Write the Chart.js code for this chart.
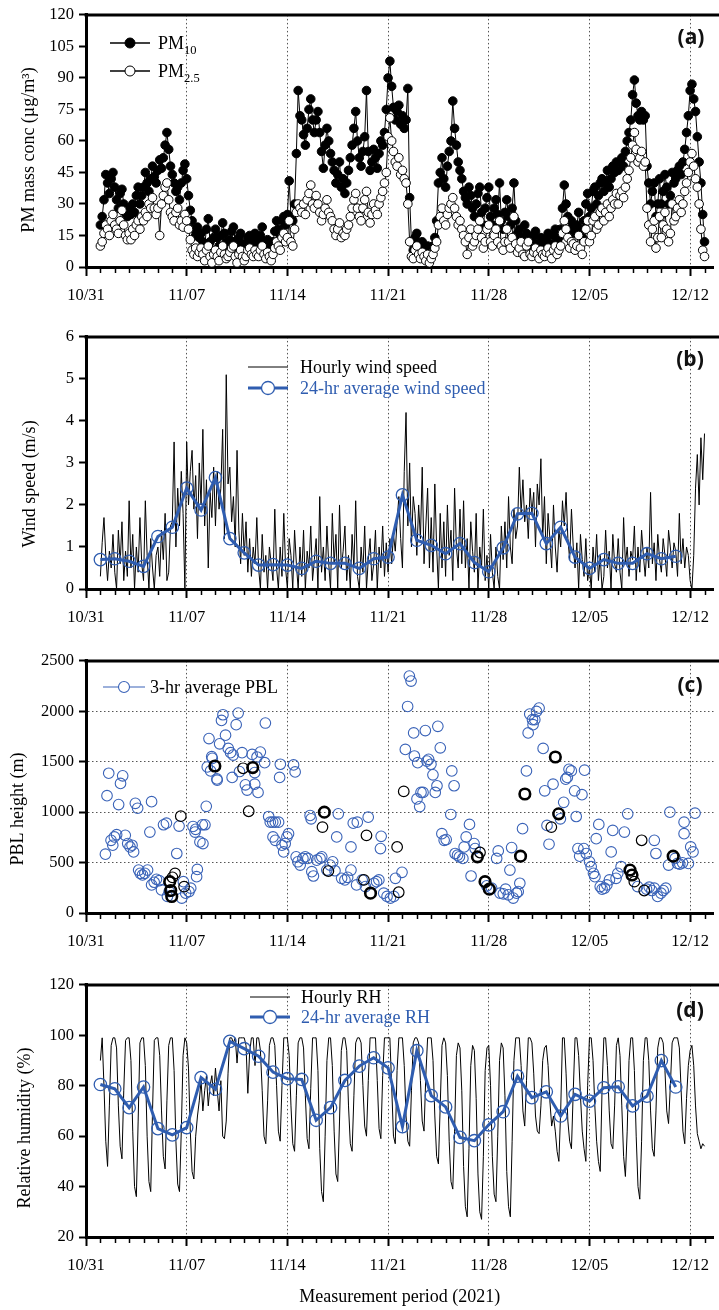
<!DOCTYPE html>
<html><head><meta charset="utf-8">
<script src="https://cdn.jsdelivr.net/npm/chart.js@4.4.1/dist/chart.umd.min.js"></script>
<style>
html,body{margin:0;padding:0;background:#fff;width:719px;height:1310px;overflow:hidden}
canvas{position:absolute;left:0}
</style></head><body>
<canvas id="ca" width="719" height="320" style="top:0"></canvas>
<canvas id="cb" width="719" height="320" style="top:322px"></canvas>
<canvas id="cc" width="719" height="320" style="top:646px"></canvas>
<canvas id="cd" width="719" height="340" style="top:970px"></canvas>
<script>
// ---------- axis data ----------
const dayTickValues = [0,7,14,21,28,35,42];
const dayTickLabels = ['10/31','11/07','11/14','11/21','11/28','12/05','12/12'];
const X_MAX = 43.63;            // days after 10/31 00:00
const hourlyStart = 1;          // 11/01 00:00
const pmStepDays = 3/24;        // PM read every 3 h
const metStepDays = 3/24;       // wind / RH read every 3 h

// ---------- (a) PM mass concentration ----------
const pm10 = [
20,24,32,44,40,35,42,45, 38,32,28,35,37,30,26,24, 28,25,30,26,34,38,30,34, 38,45,40,36,42,48,43,40,
46,51,47,52,58,64,56,48, 44,40,36,38,32,40,46,49, 42,34,27,22,18,15,19,14, 16,12,10,18,23,12,3,14,
18,14,10,15,21,16,12,9, 13,17,19,12,9,14,16,11, 8,11,14,15,11,13,16,12, 10,15,19,12,8,13,10,6,
12,17,22,18,15,22,24,20, 25,41,24,22,30,54,84,72, 70,63,58,66,75,80,70,64, 70,74,64,55,47,58,66,60,
54,50,46,40,44,50,38,42, 35,40,46,52,58,66,74,60, 52,48,55,62,84,55,46,50, 56,52,47,54,60,58,64,75,
90,98,86,76,70,74,77,68, 72,66,70,85,33,12,8,14, 16,10,8,12,9,6,10,4, 6,10,14,22,40,45,52,42,
38,48,55,60,79,66,58,50, 46,42,36,33,30,38,34,28, 24,30,35,38,26,20,28,33, 38,24,20,28,32,25,40,22,
18,26,32,24,20,28,40,22, 16,18,14,12,20,16,12,10, 12,15,17,11,9,14,12,10, 13,16,11,9,15,18,12,14,
18,28,39,30,24,18,22,20, 16,20,26,18,14,22,30,35, 24,28,36,38,30,34,40,42, 36,40,46,38,42,48,45,50,
46,50,52,48,55,60,64,70, 82,89,78,72,70,74,70,72, 48,40,30,36,40,24,30,42, 30,36,44,38,30,34,45,40,
42,46,48,44,50,56,64,72, 84,87,80,74,62,50,40,25, 12];
const pm25 = [
10,12,16,20,18,15,22,25, 20,18,16,22,27,20,15,13, 16,13,18,15,20,22,18,24, 22,26,24,30,28,33,28,25,
28,15,30,34,38,40,32,26, 24,22,26,28,20,22,19,25, 22,18,13,8,6,9,5,7, 9,6,3,8,10,5,2,6,
8,5,3,7,10,6,4,5, 7,9,10,5,2,6,8,5, 3,5,8,9,6,5,8,6, 5,8,10,6,4,7,5,3,
6,9,12,10,8,14,16,12, 14,22,12,10,18,26,30,28, 26,30,25,32,35,39,30,28, 34,30,26,22,25,28,32,26,
24,22,18,15,18,21,14,16, 15,18,20,24,28,32,35,28, 24,22,28,32,36,26,21,25, 30,27,25,30,33,36,40,45,
62,71,60,55,50,48,52,44, 46,42,40,30,12,5,4,8, 10,6,4,7,5,3,6,2, 4,6,9,12,20,24,28,22,
20,25,28,30,33,28,24,20, 22,18,15,12,6,14,18,10, 12,15,18,22,14,9,12,18, 20,12,10,15,18,12,22,10,
8,12,18,12,9,14,24,11, 7,9,12,6,5,10,12,6, 5,7,9,6,4,8,6,5, 7,9,6,4,8,10,6,8,
10,16,22,18,14,9,12,11, 8,10,15,9,6,12,18,22, 12,15,22,24,18,20,26,28, 22,26,30,24,28,32,30,35,
30,34,36,33,38,42,46,52, 58,64,56,50,52,55,48,50, 28,20,12,18,22,9,14,24, 14,20,26,18,12,16,30,22,
24,28,32,26,30,36,40,45, 50,54,48,42,38,30,18,8, 5];

// ---------- (b) wind speed ----------
const windHourly = [
0.3,1.1,1.7,0.8,0.2,0.9,0.5,1.3, 0.4,0.0,1.4,0.6,1.6,0.2,0.9,0.3, 2.1,0.5,1.3,0.0,1.0,0.4,1.7,0.6,
0.2,2.1,0.8,0.0,1.2,0.5,0.0,0.8, 1.0,0.3,1.4,0.7,1.8,0.2,0.4,1.5, 1.6,3.5,1.0,2.4,1.5,2.8,1.8,0.0,
3.5,2.0,2.8,3.3,1.9,2.7,1.2,3.0, 2.0,3.8,1.5,2.6,0.5,2.3,1.7,2.9, 1.5,2.8,1.9,2.4,3.8,1.2,5.1,2.5,
2.9,1.6,2.2,1.0,3.3,1.4,0.6,1.8, 0.8,1.6,0.4,1.2,0.3,1.0,0.6,1.7, 0.5,0.0,1.3,0.4,0.8,0.0,1.0,0.6,
0.2,1.9,0.5,0.0,1.0,0.3,1.8,0.5, 0.0,1.2,0.8,0.0,1.4,0.6,0.0,1.0, 0.3,1.4,0.0,0.9,0.5,1.5,0.2,0.7,
1.2,0.0,2.2,0.4,1.0,0.2,1.5,0.6, 0.0,1.8,0.6,1.3,0.0,2.0,0.5,0.9, 1.5,0.2,0.8,0.0,1.3,0.5,2.1,0.3,
0.0,1.0,0.4,1.5,0.0,0.7,1.2,0.2, 0.6,1.4,0.0,1.0,0.5,1.5,0.3,1.1, 0.4,1.2,0.6,1.3,0.9,1.6,2.2,1.2,
0.5,2.8,4.2,1.5,3.0,1.0,2.2,1.8, 0.8,2.0,1.2,2.9,0.6,1.5,2.4,0.5, 1.7,0.4,2.5,1.0,0.0,1.8,0.5,1.6,
0.3,2.0,0.8,1.4,0.2,2.4,1.0,0.5, 1.9,0.6,2.1,0.5,1.2,0.0,1.6,0.9, 0.4,1.8,0.0,1.0,0.5,1.9,0.2,0.8,
0.0,1.3,0.4,0.0,1.0,0.3,0.0,1.5, 0.7,1.6,0.5,2.2,1.0,0.6,1.9,1.2, 1.5,2.9,1.8,2.6,1.6,2.0,1.2,2.4,
1.8,2.3,1.0,2.5,2.0,3.1,1.2,2.2, 0.6,1.8,1.2,0.5,2.0,1.0,0.4,1.4, 1.0,2.1,1.5,2.3,1.2,0.7,1.9,1.0,
0.5,1.1,0.0,1.3,0.7,0.3,1.2,0.2, 0.5,0.0,1.0,0.4,1.3,0.2,0.8,0.0, 0.3,1.4,0.5,0.9,0.0,1.3,0.6,0.4,
1.2,0.4,0.0,1.7,0.6,1.0,0.3,0.9, 0.7,1.5,0.2,1.0,0.4,1.4,0.8,0.3, 1.0,0.5,2.3,0.6,1.1,0.2,1.3,0.7,
0.4,1.2,0.8,0.3,1.4,1.0,0.5,1.1, 0.9,0.3,1.8,0.6,1.2,0.5,1.0,0.8, 0.2,0.0,0.8,2.4,3.2,2.0,3.6,2.6,
3.7];
const windDaily = [0.70,0.72,0.66,0.54,1.25,1.47,2.40,1.88,2.65,1.20,0.86,0.57,0.58,0.57,0.49,0.66,0.61,0.61,0.49,0.72,
0.76,2.24,1.16,1.04,0.84,1.08,0.63,0.41,0.98,1.79,1.80,1.08,1.47,0.76,0.49,0.70,0.61,0.61,0.84,0.72,0.78];

// ---------- (c) PBL height: [day, height m] ----------
const pblBlue = [
[1.35,583],[1.46,1163],[1.58,1386],[1.74,721],[1.86,672],[1.97,754],[2.13,777],[2.27,1075],[2.40,1285],[2.55,1360],[2.73,770],[2.90,688],[3.06,655],[3.20,672],[3.31,606],[3.43,1088],[3.59,1039],[3.66,426],[3.77,393],[3.93,377],[4.09,393],[4.28,426],[4.44,803],[4.56,1104],[4.56,278],[4.74,305],[4.90,334],[5.09,321],[5.25,229],[5.39,875],[5.59,891],[5.66,164],[5.78,213],[6.31,590],[6.47,862],[6.66,148],[6.77,311],[6.93,197],[7.16,213],[7.28,246],[7.44,858],[7.58,803],[7.62,830],[7.69,360],[7.74,432],[7.92,705],[8.09,875],[8.13,688],[8.27,875],[8.36,1058],[8.43,1448],[8.55,1730],[8.66,1409],[8.74,1550],[8.78,1534],[9.10,1330],[9.12,1317],[9.29,1678],[9.42,1910],[9.52,1966],[9.70,1763],[9.89,1632],[10.05,1590],[10.16,1344],[10.23,1566],[10.44,1868],[10.58,1983],[10.67,1403],[10.85,1590],[11.08,1271],[11.20,1219],[11.55,1573],[11.73,1393],[11.73,1278],[11.89,1547],[11.96,1196],[12.12,1596],[12.42,1491],[12.47,1884],[12.70,957],[12.81,901],[12.98,901],[13.00,754],[13.16,721],[13.16,901],[13.39,901],[13.46,1344],[13.51,1475],[13.62,672],[13.74,606],[13.85,688],[13.97,754],[14.08,787],[14.43,1468],[14.54,1399],[14.61,557],[14.73,508],[14.89,475],[15.08,541],[15.24,557],[15.42,541],[15.58,967],[15.65,934],[15.70,410],[15.81,367],[16.04,524],[16.27,541],[16.39,557],[16.74,426],[16.97,475],[17.15,508],[17.31,419],[17.43,754],[17.54,983],[17.77,344],[18.00,328],[18.19,354],[18.42,426],[18.42,655],[18.58,891],[18.81,278],
[18.86,901],[19.20,328],[19.43,262],[19.62,950],[20.01,295],[20.20,311],[20.36,328],[20.47,639],[20.52,760],[20.70,197],[20.93,164],[21.16,148],[21.40,164],[21.51,344],[21.97,403],[22.20,1622],[22.36,2048],[22.48,2350],[22.60,2300],[22.78,1786],[22.83,1557],[23.01,1131],[23.06,1491],[23.20,1055],[23.29,1196],[23.43,1196],[23.59,1809],[23.70,1507],[23.82,1524],[23.98,1475],[24.12,1370],[24.28,1196],[24.40,1262],[24.46,1851],[24.63,1638],[24.74,787],[24.90,721],[25.04,728],[25.36,977],[25.43,1409],[25.59,1262],[25.66,590],[25.83,573],[25.96,557],[26.20,541],[26.29,655],[26.43,754],[26.66,878],[26.77,367],[26.98,688],[27.05,639],[27.86,269],[28.20,246],[28.55,541],[28.66,616],[28.78,197],[29.01,190],[29.17,236],[29.36,180],[29.47,426],[29.59,649],[29.70,148],[29.93,197],[30.05,213],[30.16,295],[30.35,836],[30.62,1409],[30.74,1786],[30.85,1973],[31.04,1917],[31.08,1868],[31.20,1917],[31.32,1999],[31.50,2032],[31.78,1632],[31.89,1212],[32.05,868],[32.19,682],[32.47,1278],[32.98,934],[33.21,1098],[33.35,1327],[33.46,1344],[33.58,1425],[33.74,1409],[33.97,1212],[34.08,957],[34.20,639],[34.32,564],[34.48,1173],[34.61,639],[34.66,1416],[34.78,590],[35.01,508],[35.12,459],[35.28,393],[35.38,360],[35.47,737],[35.65,878],[35.75,262],[35.88,236],[36.05,246],[36.21,278],[36.39,328],[36.51,606],[36.62,819],[36.85,344],[36.97,393],[37.20,459],[37.43,803],[37.66,983],[38.35,262],[38.97,236],[39.16,256],[39.34,223],[39.51,246],[39.51,721],[39.62,590],[39.74,164],[39.97,197],[40.13,223],[40.31,246],[40.50,475],[40.59,1000],[40.96,541],[41.12,492],[41.28,485],[41.47,498],[41.58,787],[41.58,901],[41.88,492],[42.04,655],[42.20,606],[42.34,990]];
const pblBlackThin = [[6.01,354],[6.19,393],[6.59,960],[6.82,262],[10.92,1435],[11.31,1009],[16.44,852],[16.85,416],[19.32,328],[19.50,770],[21.63,655],[21.74,206],[22.09,1206],[27.39,600],[32.35,852],[38.12,311],[38.63,721],[38.81,223]];
const pblBlackBold = [[5.82,311],[5.89,223],[5.96,164],[8.96,1458],[11.59,1442],[16.57,1000],[19.78,197],[27.21,557],[27.74,311],[28.04,236],[30.21,564],[30.51,1180],[32.63,1547],[32.86,983],[37.82,426],[37.96,377],[40.82,564]];

// ---------- (d) relative humidity ----------
const rhHourly = [
90,99,80,58,48,72,96,99, 99,95,72,56,51,78,98,99, 99,90,62,40,36,66,97,99, 99,88,60,42,38,70,98,99,
99,92,70,52,47,74,96,99, 99,86,58,41,38,62,92,99, 97,87,62,46,43,60,68,74, 82,70,78,84,72,80,84,76,
87,78,70,82,60,59,66,85, 99,99,97,99,89,99,99,99, 99,96,77,93,99,99,88,99, 99,94,78,60,57,74,96,99,
99,96,80,62,58,80,99,99, 99,92,72,57,54,76,97,99, 99,95,76,59,55,79,99,99, 99,86,55,38,34,60,90,99,
99,88,62,45,42,66,94,99, 99,94,72,57,54,76,97,99, 99,97,80,64,60,82,99,99, 99,99,82,63,59,84,99,99,
99,99,80,60,57,86,99,99, 99,88,68,58,56,78,97,99, 99,97,82,66,62,84,99,99, 99,90,68,52,49,72,96,99,
97,84,58,42,39,62,92,97, 95,78,48,32,28,55,88,96, 94,75,45,30,27,52,86,95, 96,80,52,37,34,60,90,97,
95,76,46,32,28,58,90,99, 99,99,88,70,64,82,99,99, 97,85,68,62,61,72,90,95, 96,88,74,64,68,62,54,50,
70,99,99,85,66,58,55,78, 99,99,92,76,62,55,50,80, 99,99,90,72,58,50,46,78, 99,99,88,70,57,55,72,96,
99,92,72,52,44,62,90,99, 99,86,60,40,35,58,90,99, 99,90,70,55,52,70,95,99, 99,97,86,70,65,80,97,99,
99,99,95,78,62,57,75,88, 94,96,88,72,61,58,55,57, 56];
const rhDaily = [80.5,78.8,71.3,79.5,63.0,60.5,63.4,83.2,78.6,97.6,94.7,91.7,85.4,82.8,82.5,66.3,71.3,82.1,87.8,91.1,
87.1,63.8,93.9,76.1,71.6,59.5,58.2,64.5,69.7,83.8,75.3,77.6,68.0,76.6,73.9,79.2,79.6,72.0,75.9,90.0,79.5];

// ---------- styling ----------
const SERIF = '"Liberation Serif","Times New Roman",serif';
const BLUE = '#2f5db0';
const PBLBLUE = '#3a63b8';
Chart.defaults.font.family = SERIF;
Chart.defaults.color = '#000';
Chart.defaults.animation = false;

const seq = (vals, start, step) => vals.map((v, i) => ({x: start + i * step, y: v}));
const daily = vals => vals.map((v, i) => ({x: i + 1, y: v}));
const pairs = arr => arr.map(p => ({x: p[0], y: p[1]}));

const decor = {
  id: 'decor',
  afterDraw(chart, args, o) {
    const {ctx, chartArea: a, scales: {x}} = chart;
    ctx.save();
    ctx.strokeStyle = '#000';
    ctx.lineWidth = 3;
    ctx.beginPath(); ctx.moveTo(a.left - 1.5, a.top); ctx.lineTo(chart.width, a.top); ctx.stroke();
    ctx.lineWidth = 1.5;
    for (let d = 1; d <= 43; d++) {
      if (d % 7 === 0) continue;
      const px = Math.round(x.getPixelForValue(d)) + 0.5;
      ctx.beginPath(); ctx.moveTo(px, a.bottom + 1); ctx.lineTo(px, a.bottom + 6); ctx.stroke();
    }
    // y title
    ctx.save();
    ctx.translate(o.yTitle.x, o.yTitle.y);
    ctx.rotate(-Math.PI / 2);
    ctx.font = '18px ' + SERIF; ctx.fillStyle = '#000';
    ctx.textAlign = 'center'; ctx.textBaseline = 'alphabetic';
    ctx.fillText(o.yTitle.text, 0, 0);
    ctx.restore();
    // panel label
    ctx.font = 'bold 21px "Open Sans","Noto Sans",sans-serif';
    ctx.fillStyle = '#111'; ctx.textAlign = 'center'; ctx.textBaseline = 'middle';
    ctx.fillText(o.label, o.labelX, o.labelY);
    // legend
    for (const it of o.legend) {
      ctx.strokeStyle = it.lineColor; ctx.lineWidth = it.lineWidth;
      ctx.beginPath(); ctx.moveTo(it.x1, it.y); ctx.lineTo(it.x2, it.y); ctx.stroke();
      const cx = (it.x1 + it.x2) / 2;
      if (it.r > 0) {
        ctx.beginPath(); ctx.arc(cx, it.y, it.r, 0, Math.PI * 2);
        ctx.fillStyle = it.fill; ctx.fill();
        ctx.lineWidth = it.mlw; ctx.strokeStyle = it.lineColor; ctx.stroke();
      }
      let tx = it.tx;
      ctx.textAlign = 'left'; ctx.textBaseline = 'alphabetic'; ctx.fillStyle = it.color;
      for (const p of it.parts) {
        ctx.font = (p.sub ? 12.5 : 18) + 'px ' + SERIF;
        ctx.fillText(p.t, tx, it.y + 6 + (p.sub ? 5 : 0));
        tx += ctx.measureText(p.t).width;
      }
    }
    ctx.restore();
  }
};

function xAxis(height, title) {
  return {
    type: 'linear', min: 0, max: X_MAX,
    afterBuildTicks: s => { s.ticks = dayTickValues.map(v => ({value: v})); },
    afterFit: s => { s.height = height; },
    ticks: {
      callback: v => { const i = dayTickValues.indexOf(v); return i >= 0 ? dayTickLabels[i] : ''; },
      font: {size: 16.5}, color: '#000', padding: 10, maxRotation: 0, autoSkip: false
    },
    grid: {
      drawOnChartArea: true,
      color: c => (c.tick && c.tick.value > 0) ? '#555' : 'rgba(0,0,0,0)',
      lineWidth: 1, tickLength: 9, tickWidth: 2, tickColor: '#000'
    },
    border: {display: true, color: '#000', width: 3, dash: [1.5, 2.5]},
    title: title ? {display: true, text: title, font: {size: 18}, color: '#000', padding: {top: 0, bottom: 2}} : {display: false}
  };
}
function yAxis(min, max, step, hgrid) {
  return {
    type: 'linear', min, max,
    afterFit: s => { s.width = 86; },
    ticks: {stepSize: step, font: {size: 16.5}, color: '#000', padding: 5, callback: v => String(v)},
    grid: {
      drawOnChartArea: hgrid,
      color: c => (hgrid && c.tick && c.tick.value > min && c.tick.value < max) ? '#555' : 'rgba(0,0,0,0)',
      tickLength: 7, tickWidth: 2, tickColor: '#000'
    },
    border: {display: true, color: '#000', width: 3, dash: [1.5, 2.5]}
  };
}
function make(id, type, datasets, y, decorOpts, padBottom, xh, xtitle) {
  return new Chart(document.getElementById(id), {
    type, data: {datasets},
    options: {
      responsive: false, animation: false, events: [],
      layout: {padding: {left: 0, right: 2, top: 13, bottom: padBottom}, autoPadding: false},
      scales: {x: xAxis(xh, xtitle), y},
      plugins: {legend: {display: false}, tooltip: {enabled: false}, decor: decorOpts}
    },
    plugins: [decor]
  });
}

// (a)
make('ca', 'line', [
  {data: seq(pm25, hourlyStart, pmStepDays), borderColor: '#000', borderWidth: 1, pointRadius: 4.3,
   pointBackgroundColor: '#fff', pointBorderColor: '#000', pointBorderWidth: 1, order: 0},
  {data: seq(pm10, hourlyStart, pmStepDays), borderColor: '#000', borderWidth: 1, pointRadius: 4.3,
   pointBackgroundColor: '#000', pointBorderColor: '#000', pointBorderWidth: 1, order: 1}
], yAxis(0, 120, 15, false), {
  label: '(a)', labelX: 691, labelY: 38,
  yTitle: {text: 'PM mass conc (µg/m³)', x: 34, y: 150},
  legend: [
    {x1: 110, x2: 150, y: 43, lineColor: '#000', lineWidth: 1.5, r: 5, fill: '#000', mlw: 1, tx: 158, color: '#000', parts: [{t: 'PM'}, {t: '10', sub: true}]},
    {x1: 110, x2: 150, y: 71, lineColor: '#000', lineWidth: 1.5, r: 5, fill: '#fff', mlw: 1, tx: 158, color: '#000', parts: [{t: 'PM'}, {t: '2.5', sub: true}]}
  ]
}, 13, 40);

// (b)
make('cb', 'line', [
  {data: daily(windDaily), borderColor: BLUE, borderWidth: 3, pointRadius: 6.2, pointBorderWidth: 1.3,
   pointBackgroundColor: 'rgba(0,0,0,0)', pointBorderColor: BLUE, order: 0},
  {data: seq(windHourly, hourlyStart, metStepDays), borderColor: '#000', borderWidth: 1, pointRadius: 0, order: 1}
], yAxis(0, 6, 1, false), {
  label: '(b)', labelX: 690, labelY: 38,
  yTitle: {text: 'Wind speed (m/s)', x: 34.5, y: 162},
  legend: [
    {x1: 248, x2: 288, y: 45, lineColor: '#000', lineWidth: 1, r: 0, fill: 'rgba(0,0,0,0)', mlw: 0, tx: 300, color: '#000', parts: [{t: 'Hourly wind speed'}]},
    {x1: 248, x2: 288, y: 66, lineColor: BLUE, lineWidth: 3, r: 6.5, fill: '#fff', mlw: 1.3, tx: 300, color: BLUE, parts: [{t: '24-hr average wind speed'}]}
  ]
}, 13, 40);

// (c)
make('cc', 'scatter', [
  {data: pairs(pblBlackBold), pointRadius: 5.3, pointBorderWidth: 2.6, pointBackgroundColor: 'rgba(0,0,0,0)', pointBorderColor: '#000', order: 0},
  {data: pairs(pblBlackThin), pointRadius: 5.3, pointBorderWidth: 1.2, pointBackgroundColor: 'rgba(0,0,0,0)', pointBorderColor: '#000', order: 1},
  {data: pairs(pblBlue), pointRadius: 5.3, pointBorderWidth: 1.1, pointBackgroundColor: 'rgba(0,0,0,0)', pointBorderColor: PBLBLUE, order: 2}
], yAxis(0, 2500, 500, true), {
  label: '(c)', labelX: 690, labelY: 40,
  yTitle: {text: 'PBL height (m)', x: 22.5, y: 163},
  legend: [
    {x1: 103, x2: 145, y: 41, lineColor: PBLBLUE, lineWidth: 1.2, r: 5.5, fill: '#fff', mlw: 1.1, tx: 150, color: '#000', parts: [{t: '3-hr average PBL'}]}
  ]
}, 13, 40);

// (d)
make('cd', 'line', [
  {data: daily(rhDaily), borderColor: BLUE, borderWidth: 3, pointRadius: 6.2, pointBorderWidth: 1.3,
   pointBackgroundColor: 'rgba(0,0,0,0)', pointBorderColor: BLUE, order: 0},
  {data: seq(rhHourly, hourlyStart, metStepDays), borderColor: '#000', borderWidth: 1, pointRadius: 0, order: 1}
], yAxis(20, 120, 20, false), {
  label: '(d)', labelX: 690, labelY: 41,
  yTitle: {text: 'Relative humidity (%)', x: 30, y: 158},
  legend: [
    {x1: 250, x2: 290, y: 27, lineColor: '#000', lineWidth: 1, r: 0, fill: 'rgba(0,0,0,0)', mlw: 0, tx: 301, color: '#000', parts: [{t: 'Hourly RH'}]},
    {x1: 250, x2: 290, y: 47, lineColor: BLUE, lineWidth: 3, r: 6.5, fill: '#fff', mlw: 1.3, tx: 301, color: BLUE, parts: [{t: '24-hr average RH'}]}
  ]
}, 0, 73, 'Measurement period (2021)');
</script>
</body></html>
